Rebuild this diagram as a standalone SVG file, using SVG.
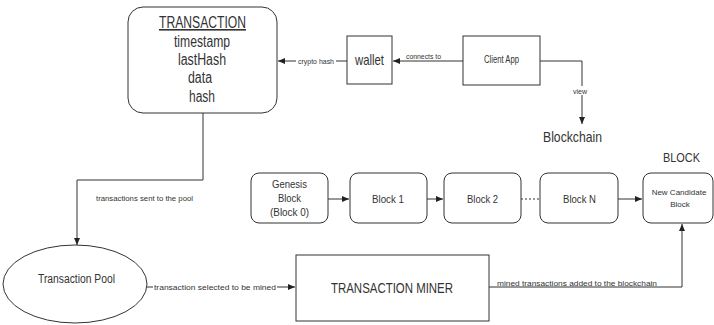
<svg xmlns="http://www.w3.org/2000/svg" width="714" height="325" viewBox="0 0 714 325">
<defs>
<marker id="arr" markerWidth="8" markerHeight="8" refX="7" refY="4" orient="auto" markerUnits="userSpaceOnUse">
<path d="M0,1 L7,4 L0,7 Z" fill="#222"/>
</marker>
<style>
.box{fill:#fff;stroke:#333;stroke-width:1}
.t{font-family:"Liberation Sans",Arial,sans-serif;fill:#333;text-anchor:middle}
.c{fill:none;stroke:#333;stroke-width:1}
.lbl{font-family:"Liberation Sans",Arial,sans-serif;fill:#333;font-size:8px;text-anchor:middle}
</style>
</defs>
<rect width="714" height="325" fill="#fff"/>
<g id="connectors">
<line class="c" x1="347" y1="61" x2="278" y2="61" marker-end="url(#arr)"/>
<rect x="296" y="56" width="40" height="10" fill="#fff"/>
<text class="lbl" x="316" y="64" textLength="36" lengthAdjust="spacingAndGlyphs">crypto hash</text>
<line class="c" x1="463" y1="61" x2="393" y2="61" marker-end="url(#arr)"/>
<rect x="404" y="51" width="39" height="9" fill="#fff"/>
<text class="lbl" x="423.5" y="59" textLength="35" lengthAdjust="spacingAndGlyphs">connects to</text>
<polyline class="c" points="540,61 582,61 582,124" marker-end="url(#arr)"/>
<rect x="572" y="86" width="18" height="9" fill="#fff"/>
<text class="lbl" x="580" y="94" textLength="14" lengthAdjust="spacingAndGlyphs">view</text>
<polyline class="c" points="203,113 203,180 77,180 77,245" marker-end="url(#arr)"/>
<text class="lbl" x="144.5" y="201" textLength="97" lengthAdjust="spacingAndGlyphs">transactions sent to the pool</text>
<line class="c" x1="147" y1="287" x2="295" y2="287" marker-end="url(#arr)"/>
<rect x="153" y="282" width="124" height="10" fill="#fff"/>
<text class="lbl" x="215" y="290" textLength="122" lengthAdjust="spacingAndGlyphs">transaction selected to be mined</text>
<polyline class="c" points="489,287 682,287 682,224" marker-end="url(#arr)"/>
<rect x="496" y="279" width="162" height="7" fill="#fff"/>
<text class="lbl" x="577" y="286" textLength="160" lengthAdjust="spacingAndGlyphs">mined transactions added to the blockchain</text>
<line class="c" x1="328" y1="199" x2="349" y2="199" marker-end="url(#arr)"/>
<line class="c" x1="427" y1="199" x2="443" y2="199" marker-end="url(#arr)"/>
<line class="c" x1="521" y1="199" x2="540" y2="199" stroke-dasharray="2,2"/>
<line class="c" x1="618" y1="199" x2="642" y2="199" marker-end="url(#arr)"/>
</g>
<g id="transaction">
<rect class="box" x="128" y="7" width="149" height="106" rx="15"/>
<text class="t" x="202.5" y="28" font-size="16" text-decoration="underline" textLength="87" lengthAdjust="spacingAndGlyphs">TRANSACTION</text>
<text class="t" x="202" y="47" font-size="16" textLength="56" lengthAdjust="spacingAndGlyphs">timestamp</text>
<text class="t" x="202" y="65" font-size="16" textLength="48" lengthAdjust="spacingAndGlyphs">lastHash</text>
<text class="t" x="200" y="83" font-size="16" textLength="24" lengthAdjust="spacingAndGlyphs">data</text>
<text class="t" x="202" y="102" font-size="16" textLength="26" lengthAdjust="spacingAndGlyphs">hash</text>
</g>
<g id="wallet">
<rect class="box" x="347" y="36" width="45" height="48"/>
<text class="t" x="369.5" y="65" font-size="15" textLength="29" lengthAdjust="spacingAndGlyphs">wallet</text>
</g>
<g id="client-app">
<rect class="box" x="463" y="36" width="77" height="49"/>
<text class="t" x="501.5" y="63" font-size="10" textLength="35" lengthAdjust="spacingAndGlyphs">Client App</text>
</g>
<g id="blockchain-label">
<text class="t" x="572.5" y="142" font-size="15" textLength="59" lengthAdjust="spacingAndGlyphs">Blockchain</text>
</g>
<g id="block-label">
<text class="t" x="681.5" y="162" font-size="12.5" textLength="37" lengthAdjust="spacingAndGlyphs">BLOCK</text>
</g>
<g id="genesis">
<rect class="box" x="251" y="173" width="77" height="50" rx="8"/>
<text class="t" x="289.5" y="188" font-size="11" textLength="35" lengthAdjust="spacingAndGlyphs">Genesis</text>
<text class="t" x="289.5" y="202" font-size="11" textLength="23" lengthAdjust="spacingAndGlyphs">Block</text>
<text class="t" x="289.5" y="216" font-size="11" textLength="39" lengthAdjust="spacingAndGlyphs">(Block 0)</text>
</g>
<g id="block1">
<rect class="box" x="350" y="173" width="77" height="50" rx="8"/>
<text class="t" x="388" y="203" font-size="11" textLength="32" lengthAdjust="spacingAndGlyphs">Block 1</text>
</g>
<g id="block2">
<rect class="box" x="444" y="173" width="77" height="50" rx="8"/>
<text class="t" x="482.5" y="203" font-size="11" textLength="31" lengthAdjust="spacingAndGlyphs">Block 2</text>
</g>
<g id="blockN">
<rect class="box" x="540" y="173" width="78" height="50" rx="8"/>
<text class="t" x="579.5" y="203" font-size="11" textLength="33" lengthAdjust="spacingAndGlyphs">Block N</text>
</g>
<g id="candidate">
<rect class="box" x="643" y="173" width="70" height="50" rx="8"/>
<text class="t" x="679" y="195" font-size="8">New Candidate</text>
<text class="t" x="680" y="207" font-size="8">Block</text>
</g>
<g id="pool">
<ellipse class="box" cx="75" cy="284" rx="72" ry="39"/>
<text class="t" x="76.5" y="283" font-size="12.5" textLength="77" lengthAdjust="spacingAndGlyphs">Transaction Pool</text>
</g>
<g id="miner">
<rect class="box" x="296" y="255" width="193" height="66"/>
<text class="t" x="392" y="293" font-size="14.5" textLength="122" lengthAdjust="spacingAndGlyphs">TRANSACTION MINER</text>
</g>
</svg>
